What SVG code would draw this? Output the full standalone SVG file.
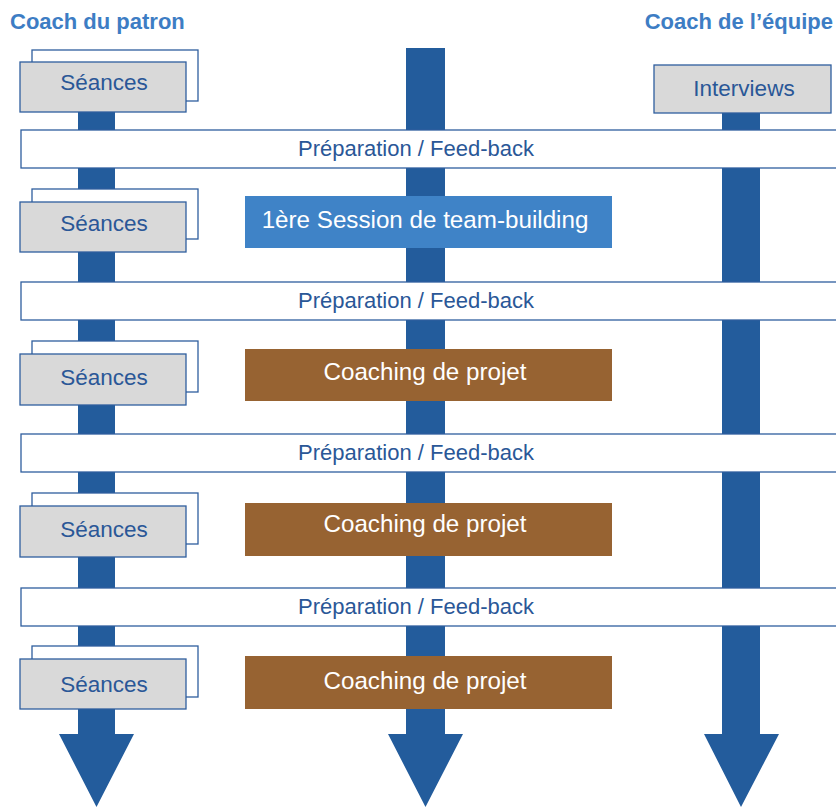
<svg xmlns="http://www.w3.org/2000/svg" width="836" height="807" viewBox="0 0 836 807">
  <style>
    .head { font-family: "Liberation Sans", Arial, sans-serif; font-weight: bold; font-size: 22px; fill: #3D7DC4; }
    .flow { fill: #235C9C; }
    .back { fill: #FFFFFF; stroke: #2F5E9E; stroke-width: 1.3; }
    .card { fill: #D9D9D9; stroke: #2F5E9E; stroke-width: 1.3; }
    .band { fill: #FFFFFF; stroke: #2F5E9E; stroke-width: 1.3; }
    .lbl { font-family: "Liberation Sans", Arial, sans-serif; font-size: 22.5px; fill: #2A5797; text-anchor: middle; }
    .bandlbl { font-family: "Liberation Sans", Arial, sans-serif; font-size: 22px; fill: #2A5797; text-anchor: middle; }
    .team { fill: #3F83C7; }
    .proj { fill: #976332; }
    .wlbl { font-family: "Liberation Sans", Arial, sans-serif; font-size: 24.2px; fill: #FFFFFF; text-anchor: middle; }
  </style>

  <!-- Column headers -->
  <text class="head" x="10" y="29">Coach du patron</text>
  <text class="head" x="833" y="29" text-anchor="end">Coach de l’équipe</text>

  <!-- Timeline arrows -->
  <g id="connectors">
    <polygon class="flow" points="78,100 115,100 115,734 134,734 96.5,807 59,734 78,734"/>
    <polygon class="flow" points="406,48 445,48 445,734 463,734 425.5,807 388,734 406,734"/>
    <polygon class="flow" points="722,100 760,100 760,734 779,734 741,807 704,734 722,734"/>
  </g>

  <!-- Preparation / feedback bands -->
  <g id="prep1"><rect class="band" x="21" y="130" width="830" height="38"/><text class="bandlbl" x="416" y="156">Préparation / Feed-back</text></g>
  <g id="prep2"><rect class="band" x="21" y="282" width="830" height="38"/><text class="bandlbl" x="416" y="308">Préparation / Feed-back</text></g>
  <g id="prep3"><rect class="band" x="21" y="434" width="830" height="38"/><text class="bandlbl" x="416" y="460">Préparation / Feed-back</text></g>
  <g id="prep4"><rect class="band" x="21" y="588" width="830" height="38"/><text class="bandlbl" x="416" y="614">Préparation / Feed-back</text></g>

  <!-- Boss coaching sessions -->
  <g id="seances1"><rect class="back" x="32" y="50" width="166" height="51"/><rect class="card" x="20" y="62" width="166" height="50"/><text class="lbl" x="104" y="90">Séances</text></g>
  <g id="seances2"><rect class="back" x="32" y="189" width="166" height="50"/><rect class="card" x="20" y="202" width="166" height="50"/><text class="lbl" x="104" y="231">Séances</text></g>
  <g id="seances3"><rect class="back" x="32" y="341" width="166" height="51"/><rect class="card" x="20" y="354" width="166" height="51"/><text class="lbl" x="104" y="385">Séances</text></g>
  <g id="seances4"><rect class="back" x="32" y="493" width="166" height="51"/><rect class="card" x="20" y="506" width="166" height="51"/><text class="lbl" x="104" y="537">Séances</text></g>
  <g id="seances5"><rect class="back" x="32" y="646" width="166" height="51"/><rect class="card" x="20" y="659" width="166" height="50"/><text class="lbl" x="104" y="692">Séances</text></g>

  <!-- Team coach -->
  <g id="interviews"><rect class="card" x="654" y="65" width="177" height="48"/><text class="lbl" x="744" y="96">Interviews</text></g>

  <!-- Team sessions -->
  <g id="teambuilding"><rect class="team" x="245" y="196" width="367" height="52"/><text class="wlbl" x="425" y="228">1ère Session de team-building</text></g>
  <g id="projet1"><rect class="proj" x="245" y="349" width="367" height="52"/><text class="wlbl" x="425" y="380">Coaching de projet</text></g>
  <g id="projet2"><rect class="proj" x="245" y="503" width="367" height="53"/><text class="wlbl" x="425" y="532">Coaching de projet</text></g>
  <g id="projet3"><rect class="proj" x="245" y="656" width="367" height="53"/><text class="wlbl" x="425" y="689">Coaching de projet</text></g>
</svg>
